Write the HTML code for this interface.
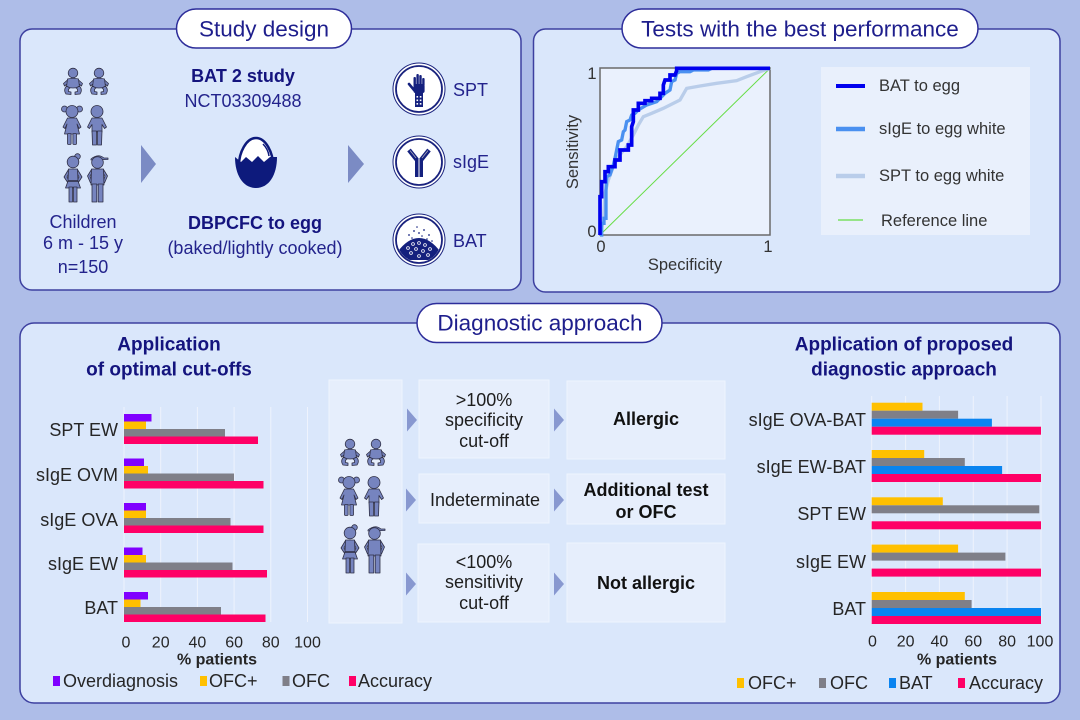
<!DOCTYPE html>
<html><head><meta charset="utf-8"><style>
html,body{margin:0;padding:0;background:#aebde8;}
svg{display:block;font-family:"Liberation Sans",Arial,sans-serif;}
</style></head><body>
<svg width="1080" height="720" viewBox="0 0 1080 720" xmlns="http://www.w3.org/2000/svg">
<defs>
 <g id="people" fill="#7684bf" stroke="#2f2f45" stroke-width="0.8" stroke-linejoin="round">
  <g transform="translate(3,2)">
   <circle cx="10" cy="5" r="4.8"/>
   <path d="M5,11.5 L0.5,15.5 L1.5,18 L5.5,15 Z"/><path d="M15,11.5 L19.5,15.5 L18.5,18 L14.5,15 Z"/>
   <path d="M4.5,11 Q10,9.5 15.5,11 L16.5,19 Q10,21 3.5,19 Z"/>
   <path d="M3.5,18 Q0,22 3,26 L8,26.5 L8,24 L5.5,23.5 Q5,21 7,20 Z"/><path d="M16.5,18 Q20,22 17,26 L12,26.5 L12,24 L14.5,23.5 Q15,21 13,20 Z"/>
  </g>
  <g transform="translate(29,2)">
   <circle cx="10" cy="5" r="4.8"/>
   <path d="M5,11.5 L0.5,15.5 L1.5,18 L5.5,15 Z"/><path d="M15,11.5 L19.5,15.5 L18.5,18 L14.5,15 Z"/>
   <path d="M4.5,11 Q10,9.5 15.5,11 L16.5,19 Q10,21 3.5,19 Z"/>
   <path d="M3.5,18 Q0,22 3,26 L8,26.5 L8,24 L5.5,23.5 Q5,21 7,20 Z"/><path d="M16.5,18 Q20,22 17,26 L12,26.5 L12,24 L14.5,23.5 Q15,21 13,20 Z"/>
  </g>
  <g transform="translate(2,39)">
   <circle cx="2.5" cy="4" r="3"/><circle cx="17.5" cy="4" r="3"/>
   <circle cx="10" cy="6.5" r="6"/>
   <path d="M5.5,13 L14.5,13 L19,22 L17,23.5 L15,19 L17.5,29 L2.5,29 L5,19 L3,23.5 L1,22 Z"/>
   <rect x="5.5" y="28.5" width="3.6" height="11" rx="1"/><rect x="10.9" y="28.5" width="3.6" height="11" rx="1"/>
  </g>
  <g transform="translate(27,39)">
   <circle cx="10" cy="6.5" r="6"/>
   <path d="M5,13 L15,13 L19.5,22 L17.5,23.5 L15,19.5 L15,27 L5,27 L5,19.5 L2.5,23.5 L0.5,22 Z"/>
   <path d="M5,26 L9.5,26 L9.5,40 L5.5,40 Z"/><path d="M10.5,26 L15,26 L14.5,40 L10.5,40 Z"/>
  </g>
  <g transform="translate(3,88)">
   <circle cx="14.5" cy="2.5" r="2.8"/><circle cx="10" cy="8" r="5.8"/>
   <path d="M5.5,15.5 L1,23 L5,29 L6.5,27.5 L4,23 L6,19 Z"/><path d="M14.5,15.5 L19,23 L15,29 L13.5,27.5 L16,23 L14,19 Z"/>
   <path d="M5.5,15 L14.5,15 L15,27 L17.5,34 L2.5,34 L5,27 Z"/>
   <line x1="5" y1="27" x2="15" y2="27" stroke-width="1.6"/>
   <rect x="6" y="33" width="3.5" height="15"/><rect x="10.5" y="33" width="3.5" height="15"/>
  </g>
  <g transform="translate(27,88)">
   <path d="M4,5 Q11,-1 17,4 L21,4 L21,5.5 L4,6 Z" fill="#7684bf"/>
   <circle cx="10.5" cy="8.5" r="5.8"/>
   <path d="M4.5,15.5 L0.5,22 L3.5,29 L5,28 L3,22 L5,19 Z"/><path d="M16.5,15.5 L20.5,22 L17.5,29 L16,28 L18,22 L16,19 Z"/>
   <path d="M4.5,15 L16.5,15 L17,31 L4,31 Z"/>
   <rect x="5" y="30" width="4.8" height="18"/><rect x="11.2" y="30" width="4.8" height="18"/>
  </g>
 </g>
 <clipPath id="batclip"><circle cx="0" cy="0" r="22"/></clipPath>
</defs>

<rect width="1080" height="720" fill="#aebde8"/>

<!-- Panels -->
<rect x="20" y="29" width="501" height="261" rx="12" fill="#dae7fb" stroke="#3d40a0" stroke-width="1.5"/>
<rect x="533.5" y="29" width="526.5" height="263" rx="12" fill="#dae7fb" stroke="#3d40a0" stroke-width="1.5"/>
<rect x="20" y="323" width="1040" height="380" rx="14" fill="#dae7fb" stroke="#3d40a0" stroke-width="1.5"/>

<!-- Pills -->
<rect x="176.5" y="9" width="175" height="39" rx="19.5" fill="#fff" stroke="#2d2d9a" stroke-width="1.5"/>
<text x="264" y="29" font-size="22.5" fill="#1e1e8c" text-anchor="middle" dominant-baseline="central">Study design</text>
<rect x="622" y="9" width="356" height="39" rx="19.5" fill="#fff" stroke="#2d2d9a" stroke-width="1.5"/>
<text x="800" y="29" font-size="22.5" fill="#1e1e8c" text-anchor="middle" dominant-baseline="central">Tests with the best performance</text>
<rect x="417" y="303.5" width="245" height="39" rx="19.5" fill="#fff" stroke="#2d2d9a" stroke-width="1.5"/>
<text x="540" y="323" font-size="22.5" fill="#1e1e8c" text-anchor="middle" dominant-baseline="central">Diagnostic approach</text>

<!-- Study design content -->
<use href="#people" transform="translate(60,66)"/>
<g font-size="18" fill="#23238c" text-anchor="middle" dominant-baseline="central">
 <text x="83" y="222">Children</text>
 <text x="83" y="243">6 m - 15 y</text>
 <text x="83" y="267">n=150</text>
 <text x="243" y="76" font-weight="bold" fill="#14147e">BAT 2 study</text>
 <text x="243" y="101">NCT03309488</text>
 <text x="255" y="223" font-weight="bold" fill="#14147e">DBPCFC to egg</text>
 <text x="255" y="248">(baked/lightly cooked)</text>
</g>
<polygon points="141,145 156,164 141,183" fill="#7b8bc4"/>
<polygon points="348,145 364,164 348,183" fill="#7b8bc4"/>
<!-- egg -->
<g transform="translate(256,163)">
 <path d="M0,-25 C10,-25 17,-10 17,2 L-17,2 C-17,-10 -10,-25 0,-25 Z" fill="#fff" stroke="#0d1a7c" stroke-width="2.5"/>
 <path d="M-21,-6 L-15,-1 L-10,-6 L-4,-1 L2,-7 L8,-1 L14,-6 L21,-6 C21,12 13,25 0,25 C-13,25 -21,12 -21,-6 Z" fill="#0d1a7c"/>
 <path d="M7,-19 Q12,-14 13,-7" fill="none" stroke="#0d1a7c" stroke-width="1.5"/>
</g>
<!-- circle icons -->
<g fill="#fff" stroke="#1a237e">
 <circle cx="419" cy="89" r="26" stroke-width="1"/><circle cx="419" cy="89" r="23" stroke-width="1.8"/>
 <circle cx="419" cy="162" r="26" stroke-width="1"/><circle cx="419" cy="162" r="23" stroke-width="1.8"/>
 <circle cx="419" cy="240" r="26" stroke-width="1"/><circle cx="419" cy="240" r="23" stroke-width="1.8"/>
</g>
<g transform="translate(419,89)" fill="#14207e">
 <rect x="-5.5" y="-12" width="2.4" height="9" rx="1"/>
 <rect x="-2.6" y="-15" width="2.4" height="12" rx="1"/>
 <rect x="0.3" y="-14" width="2.4" height="11" rx="1"/>
 <rect x="3.2" y="-11" width="2.4" height="8" rx="1"/>
 <rect x="-5.5" y="-5" width="11.1" height="9" rx="2"/>
 <path d="M-5,1 L-10,-5" stroke="#14207e" stroke-width="2.6" stroke-linecap="round"/>
 <rect x="-4" y="3" width="8" height="15"/>
 <g fill="#fff"><rect x="-2.5" y="7" width="1.6" height="1.6"/><rect x="0.8" y="7" width="1.6" height="1.6"/><rect x="-2.5" y="10.5" width="1.6" height="1.6"/><rect x="0.8" y="10.5" width="1.6" height="1.6"/><rect x="-2.5" y="14" width="1.6" height="1.6"/><rect x="0.8" y="14" width="1.6" height="1.6"/></g>
</g>
<g transform="translate(419,162)">
 <rect x="-4" y="-3" width="8" height="18" fill="#14207e"/>
 <line x1="0" y1="-3" x2="0" y2="15" stroke="#fff" stroke-width="1"/>
 <path d="M-2,-2 L-10,-12" stroke="#14207e" stroke-width="4.5"/>
 <path d="M2,-2 L10,-12" stroke="#14207e" stroke-width="4.5"/>
 <path d="M-3,-4 L-9,-11.5 M3,-4 L9,-11.5" stroke="#aab" stroke-width="0.8"/>
</g>
<g transform="translate(419,240)">
 <path clip-path="url(#batclip)" d="M-23,20 L-23,14 Q-12,-2 0,-2 Q12,-2 23,14 L23,20 Z" fill="#14207e"/>
 <g fill="none" stroke="#fff" stroke-width="0.8">
  <circle cx="-11" cy="8" r="1.4"/><circle cx="-6" cy="4" r="1.4"/><circle cx="0" cy="3" r="1.4"/><circle cx="6" cy="5" r="1.4"/><circle cx="11" cy="9" r="1.4"/>
  <circle cx="-3" cy="9" r="1.4"/><circle cx="4" cy="11" r="1.4"/><circle cx="-8" cy="13" r="1.4"/><circle cx="9" cy="15" r="1.4"/><circle cx="0" cy="16" r="1.4"/>
 </g>
 <g fill="#14207e">
  <circle cx="-10" cy="-5" r="0.9"/><circle cx="-5" cy="-9" r="0.9"/><circle cx="0" cy="-7" r="0.9"/><circle cx="5" cy="-10" r="0.9"/><circle cx="10" cy="-5" r="0.9"/>
  <circle cx="-7" cy="-2" r="0.8"/><circle cx="3" cy="-4" r="0.8"/><circle cx="8" cy="-1" r="0.8"/><circle cx="-2" cy="-13" r="0.8"/><circle cx="13" cy="1" r="0.8"/>
 </g>
</g>
<g font-size="18" fill="#23238c" dominant-baseline="central">
 <text x="453" y="90">SPT</text>
 <text x="453" y="162">sIgE</text>
 <text x="453" y="241">BAT</text>
</g>

<!-- ROC -->
<rect x="600" y="68" width="170" height="167" fill="#eaf1fd" stroke="#6a6a6a" stroke-width="1.5"/>
<g transform="translate(580,50) scale(0.33333)" fill="none" stroke-linejoin="miter">
 <path d="M60,555 L570,55" stroke="#66dd44" stroke-width="3"/>
 <path d="M60,555 L70,510 L75,430 L85,390 L100,350 L115,320 L140,290 L160,255 L175,225 L190,200 L215,190 L250,175 L300,150 L320,115 L360,108 L410,100 L470,92 L500,80 L540,65 L570,55" stroke="#b9cdea" stroke-width="10"/>
 <path d="M60,555 L65,555 L65,520 L72,520 L72,505 L78,505 L78,420 L80,380 L90,375 L100,345 L105,325 L110,300 L115,275 L125,270 L130,245 L135,240 L140,215 L150,210 L155,195 L165,190 L175,180 L200,165 L230,155 L245,140 L255,130 L270,120 L275,95 L285,90 L290,70 L300,65 L330,65 L340,60 L385,60 L395,55 L570,55" stroke="#4a90f0" stroke-width="10"/>
 <path d="M60,555 L60,440 L65,440 L65,395 L75,395 L75,365 L85,365 L85,350 L105,350 L105,330 L120,330 L120,300 L145,300 L145,285 L155,285 L155,230 L160,215 L160,180 L175,180 L175,160 L195,160 L195,152 L215,152 L215,145 L240,145 L240,130 L250,130 L250,105 L255,90 L270,90 L270,75 L285,75 L290,62 L290,55 L570,55" stroke="#0000ee" stroke-width="11"/>
</g>
<g font-size="16.5" fill="#333" text-anchor="middle" dominant-baseline="central">
 <text x="592" y="74">1</text>
 <text x="592" y="232">0</text>
 <text x="601" y="247">0</text>
 <text x="768" y="247">1</text>
 <text x="685" y="265">Specificity</text>
 <text x="573" y="152" transform="rotate(-90 573 152)">Sensitivity</text>
</g>
<rect x="821" y="67" width="209" height="168" fill="#e9f0fc"/>
<line x1="836" y1="86" x2="865" y2="86" stroke="#0000ee" stroke-width="4"/>
<line x1="836" y1="129" x2="865" y2="129" stroke="#4a90f0" stroke-width="4.5"/>
<line x1="836" y1="176" x2="865" y2="176" stroke="#b9cdea" stroke-width="4.5"/>
<line x1="838" y1="220" x2="863" y2="220" stroke="#66dd44" stroke-width="1.2"/>
<g font-size="16.5" fill="#333" dominant-baseline="central">
 <text x="879" y="86">BAT to egg</text>
 <text x="879" y="129">sIgE to egg white</text>
 <text x="879" y="176">SPT to egg white</text>
 <text x="881" y="221">Reference line</text>
</g>

<!-- Chart titles -->
<g font-size="19" font-weight="bold" fill="#14147e" text-anchor="middle" dominant-baseline="central">
 <text x="169" y="345">Application</text>
 <text x="169" y="370">of optimal cut-offs</text>
 <text x="904" y="345">Application of proposed</text>
 <text x="904" y="370">diagnostic approach</text>
</g>
<!-- Left chart -->
<g stroke="#eef3fd" stroke-width="1">
 <line x1="124" y1="407" x2="124" y2="622"/><line x1="160.7" y1="407" x2="160.7" y2="622"/><line x1="197.4" y1="407" x2="197.4" y2="622"/><line x1="234.1" y1="407" x2="234.1" y2="622"/><line x1="270.8" y1="407" x2="270.8" y2="622"/><line x1="307.5" y1="407" x2="307.5" y2="622"/>
</g>
<g>
 <rect x="124" y="414" width="27.5" height="7.5" fill="#8000ff"/>
 <rect x="124" y="421.5" width="22" height="7.5" fill="#ffc000"/>
 <rect x="124" y="429" width="101" height="7.5" fill="#7f7f88"/>
 <rect x="124" y="436.5" width="134" height="7.5" fill="#ff0066"/>

 <rect x="124" y="458.5" width="20" height="7.5" fill="#8000ff"/>
 <rect x="124" y="466" width="24" height="7.5" fill="#ffc000"/>
 <rect x="124" y="473.5" width="110" height="7.5" fill="#7f7f88"/>
 <rect x="124" y="481" width="139.5" height="7.5" fill="#ff0066"/>

 <rect x="124" y="503" width="22" height="7.5" fill="#8000ff"/>
 <rect x="124" y="510.5" width="22" height="7.5" fill="#ffc000"/>
 <rect x="124" y="518" width="106.5" height="7.5" fill="#7f7f88"/>
 <rect x="124" y="525.5" width="139.5" height="7.5" fill="#ff0066"/>

 <rect x="124" y="547.5" width="18.5" height="7.5" fill="#8000ff"/>
 <rect x="124" y="555" width="22" height="7.5" fill="#ffc000"/>
 <rect x="124" y="562.5" width="108.5" height="7.5" fill="#7f7f88"/>
 <rect x="124" y="570" width="143" height="7.5" fill="#ff0066"/>

 <rect x="124" y="592" width="24" height="7.5" fill="#8000ff"/>
 <rect x="124" y="599.5" width="16.5" height="7.5" fill="#ffc000"/>
 <rect x="124" y="607" width="97" height="7.5" fill="#7f7f88"/>
 <rect x="124" y="614.5" width="141.5" height="7.5" fill="#ff0066"/>
</g>
<g font-size="18" fill="#262626" text-anchor="end" dominant-baseline="central">
 <text x="118" y="430">SPT EW</text>
 <text x="118" y="475">sIgE OVM</text>
 <text x="118" y="520">sIgE OVA</text>
 <text x="118" y="564">sIgE EW</text>
 <text x="118" y="608">BAT</text>
</g>
<g font-size="16" fill="#262626" text-anchor="middle" dominant-baseline="central">
 <text x="126" y="643">0</text><text x="160.7" y="643">20</text><text x="197.4" y="643">40</text><text x="234.1" y="643">60</text><text x="270.8" y="643">80</text><text x="307.5" y="643">100</text>
 <text x="217" y="660" font-weight="bold">% patients</text>
</g>
<rect x="53" y="676" width="7" height="10" fill="#8000ff"/>
<rect x="200" y="676" width="7" height="10" fill="#ffc000"/>
<rect x="282.5" y="676" width="7" height="10" fill="#7f7f88"/>
<rect x="349" y="676" width="7" height="10" fill="#ff0066"/>
<g font-size="18" fill="#262626" dominant-baseline="central">
 <text x="63" y="681">Overdiagnosis</text>
 <text x="209" y="681">OFC+</text>
 <text x="292" y="681">OFC</text>
 <text x="358" y="681">Accuracy</text>
</g>

<!-- Middle flow -->
<rect x="329" y="380" width="73" height="243" fill="#e6eefc" stroke="#eef4fe" stroke-width="1"/>
<use href="#people" transform="translate(337,437)"/>
<g fill="#e6eefc" stroke="#eef4fe" stroke-width="1">
 <rect x="419" y="380" width="130" height="78"/>
 <rect x="419" y="474" width="130" height="49"/>
 <rect x="418" y="544" width="131" height="78"/>
 <rect x="567" y="381" width="158" height="78"/>
 <rect x="567" y="474" width="158" height="50"/>
 <rect x="567" y="543" width="158" height="79"/>
</g>
<g fill="#8898d0">
 <polygon points="407,408.5 417,420 407,431.5"/>
 <polygon points="406,488.5 416,500 406,511.5"/>
 <polygon points="406,572.5 416,584 406,595.5"/>
 <polygon points="554,408.5 564,420 554,431.5"/>
 <polygon points="554,488.5 564,500 554,511.5"/>
 <polygon points="554,572.5 564,584 554,595.5"/>
</g>
<g font-size="18" fill="#1e1e1e" text-anchor="middle" dominant-baseline="central">
 <text x="484" y="400">&gt;100%</text>
 <text x="484" y="420">specificity</text>
 <text x="484" y="441">cut-off</text>
 <text x="485" y="500">Indeterminate</text>
 <text x="484" y="562">&lt;100%</text>
 <text x="484" y="582">sensitivity</text>
 <text x="484" y="603">cut-off</text>
 <g font-weight="bold" fill="#111">
  <text x="646" y="419">Allergic</text>
  <text x="646" y="490">Additional test</text>
  <text x="646" y="512">or OFC</text>
  <text x="646" y="583">Not allergic</text>
 </g>
</g>

<!-- Right chart -->
<g stroke="#eef3fd" stroke-width="1">
 <line x1="871.7" y1="396" x2="871.7" y2="623"/><line x1="905.6" y1="396" x2="905.6" y2="623"/><line x1="939.4" y1="396" x2="939.4" y2="623"/><line x1="973.3" y1="396" x2="973.3" y2="623"/><line x1="1007.1" y1="396" x2="1007.1" y2="623"/><line x1="1041" y1="396" x2="1041" y2="623"/>
</g>
<g>
 <rect x="871.7" y="402.7" width="50.8" height="8" fill="#ffc000"/>
 <rect x="871.7" y="410.7" width="86.4" height="8" fill="#7f7f88"/>
 <rect x="871.7" y="418.7" width="120.2" height="8" fill="#0a84f0"/>
 <rect x="871.7" y="426.7" width="169.3" height="8" fill="#ff0066"/>

 <rect x="871.7" y="450" width="52.5" height="8" fill="#ffc000"/>
 <rect x="871.7" y="458" width="93.1" height="8" fill="#7f7f88"/>
 <rect x="871.7" y="466" width="130.4" height="8" fill="#0a84f0"/>
 <rect x="871.7" y="474" width="169.3" height="8" fill="#ff0066"/>

 <rect x="871.7" y="497.3" width="71.1" height="8" fill="#ffc000"/>
 <rect x="871.7" y="505.3" width="167.6" height="8" fill="#7f7f88"/>
 <rect x="871.7" y="521.3" width="169.3" height="8" fill="#ff0066"/>

 <rect x="871.7" y="544.6" width="86.4" height="8" fill="#ffc000"/>
 <rect x="871.7" y="552.6" width="133.7" height="8" fill="#7f7f88"/>
 <rect x="871.7" y="568.6" width="169.3" height="8" fill="#ff0066"/>

 <rect x="871.7" y="592" width="93.1" height="8" fill="#ffc000"/>
 <rect x="871.7" y="600" width="99.9" height="8" fill="#7f7f88"/>
 <rect x="871.7" y="608" width="169.3" height="8" fill="#0a84f0"/>
 <rect x="871.7" y="616" width="169.3" height="8" fill="#ff0066"/>
</g>
<g font-size="18" fill="#262626" text-anchor="end" dominant-baseline="central">
 <text x="866" y="420">sIgE OVA-BAT</text>
 <text x="866" y="467">sIgE EW-BAT</text>
 <text x="866" y="514">SPT EW</text>
 <text x="866" y="562">sIgE EW</text>
 <text x="866" y="609">BAT</text>
</g>
<g font-size="16" fill="#262626" text-anchor="middle" dominant-baseline="central">
 <text x="872.5" y="642">0</text><text x="905.6" y="642">20</text><text x="939.4" y="642">40</text><text x="973.3" y="642">60</text><text x="1007.1" y="642">80</text><text x="1040" y="642">100</text>
 <text x="957" y="660" font-weight="bold">% patients</text>
</g>
<rect x="737" y="678" width="7" height="10" fill="#ffc000"/>
<rect x="819" y="678" width="7" height="10" fill="#7f7f88"/>
<rect x="889" y="678" width="7" height="10" fill="#0a84f0"/>
<rect x="958" y="678" width="7" height="10" fill="#ff0066"/>
<g font-size="18" fill="#262626" dominant-baseline="central">
 <text x="748" y="683">OFC+</text>
 <text x="830" y="683">OFC</text>
 <text x="899" y="683">BAT</text>
 <text x="969" y="683">Accuracy</text>
</g>
</svg>
</body></html>
